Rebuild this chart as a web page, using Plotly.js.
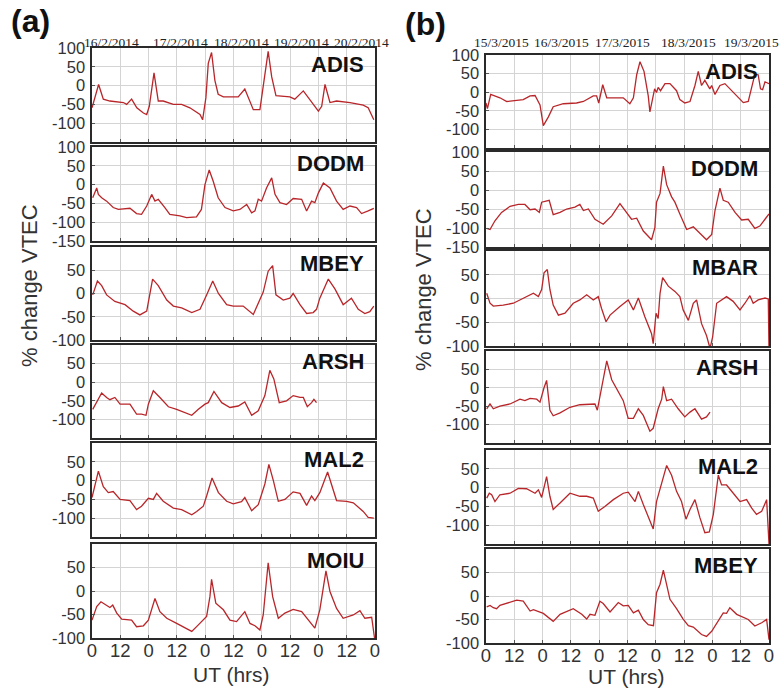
<!DOCTYPE html>
<html><head><meta charset="utf-8">
<script src="https://cdn.plot.ly/plotly-3.0.1.min.js"></script>
<style>html,body{margin:0;padding:0;background:#fff}#chart{width:781px;height:689px}</style>
</head><body><div id="chart"></div>
<script>
// ---------- DATA ----------
const xTickVals = [0,12,24,36,48,60,72,84,96,108,120];
const xTickText = ['0','12','0','12','0','12','0','12','0','12','0'];
const stationsA = ['ADIS','DODM','MBEY','ARSH','MAL2','MOIU'];
const stationsB = ['ADIS','DODM','MBAR','ARSH','MAL2','MBEY'];
const datesA = ['16/2/2014','17/2/2014','18/2/2014','19/2/2014','20/2/2014'];
const datesB = ['15/3/2015','16/3/2015','17/3/2015','18/3/2015','19/3/2015'];

const a_ADIS_t = [0,1.3,2.8,4.8,7.6,13.3,14.7,16.8,19,21.8,23.2,24.3,26.3,28.1,30.2,34.5,38,41.5,45.8,46.9,48.3,49.3,50.7,52.1,53.5,55.7,62,64.8,68.4,71.2,73.3,74.7,76.2,78,83.9,86,89.6,93.1,96,97.4,98.8,100.9,103.7,109.4,115,117.1,119.5];
const a_ADIS_v = [-59,-32,3,-36,-41,-45,-50,-36,-59,-73,-77,-55,34,-41,-41,-50,-50,-59,-77,-91,-32,59,88,14,-23,-30,-30,-9,-64,-64,32,91,23,-27,-30,-36,-14,-45,-68,-55,3,-45,-41,-45,-52,-59,-91];

const a_DODM_t = [0.3,1.3,2,2.7,4.1,6.2,9,11.2,16.1,18.9,21,23.2,25.3,26.7,28.1,30.9,33,37.3,40.1,44.3,46.4,47.9,49.7,51.4,53.5,56.4,59.9,62.7,65.6,67.7,69.1,70.5,71.9,74,76.2,77.6,79.7,82.5,85.3,88.9,91,93.1,94.5,96,98.1,100.9,103.7,106.5,109.4,112.2,114.3,117.1,119.5];
const a_DODM_v = [-35,-18,-9,-26,-35,-44,-61,-66,-63,-77,-79,-57,-26,-44,-39,-61,-79,-83,-88,-86,-66,0,39,9,-35,-61,-70,-66,-53,-75,-70,-39,-44,-9,18,-26,-48,-53,-37,-39,-70,-44,-48,-22,4,-9,-44,-66,-57,-61,-77,-70,-63];

const a_MBEY_t = [0.3,2.3,4.1,6.2,9.7,14,17.5,20.3,23.2,25.7,28.1,31.7,34.5,38,42.3,45.8,48.6,51.2,53.6,57.1,59.9,64.1,68.4,72.6,74.7,76.6,78,81.1,83.9,85.3,88.2,91,93.8,95.2,96.6,100.2,103,106.5,110,112.9,115.7,117.8,119.5];
const a_MBEY_v = [-3,27,17,-3,-17,-24,-38,-46,-38,31,17,-14,-27,-31,-41,-34,-3,27,0,-24,-27,-27,-45,3,48,60,-3,-14,-10,0,-24,-43,-41,-34,-10,31,10,-24,-10,-34,-43,-39,-27];

const a_ARSH_t = [0.3,2.3,4.1,6.2,7.6,9.7,11.9,16.1,18.9,21,22.9,23.9,26,28.8,32.4,35.9,39.4,42.3,45.1,47.9,49.3,51.7,55,58.5,62,64.8,67.7,70.5,73.3,75.4,77.1,79.4,82.5,85.3,88.2,89.6,91.3,93.1,94.1,95.2];
const a_ARSH_v = [-73,-50,-29,-41,-47,-41,-59,-59,-86,-86,-89,-59,-23,-41,-66,-73,-82,-89,-73,-59,-55,-25,-55,-68,-64,-53,-89,-77,-36,32,9,-55,-50,-36,-41,-41,-66,-55,-46,-55];

const a_MAL2_t = [0,1.3,2.7,4.8,6.9,9,11.9,16.1,18.9,21,23.9,26,27.4,30.2,34.5,38,42.3,44.4,47.2,48.6,50.9,53.6,57.1,59.9,63.4,64.8,67.7,70.5,73.3,75,76.9,79,81.8,85.3,88.2,91,93.1,94.5,96.6,99.9,103.7,108,110.8,115,117.1,119.5];
const a_MAL2_v = [-45,-9,25,-16,-32,-29,-50,-53,-77,-68,-47,-50,-34,-55,-73,-77,-91,-82,-68,-41,7,-32,-55,-62,-56,-45,-80,-64,-9,43,0,-55,-50,-30,-34,-66,-41,-53,-32,23,-53,-55,-59,-82,-98,-100];

const a_MOIU_t = [0,2,3.8,6.2,7.6,8.8,10.5,12.6,16.8,18.9,21.8,23.9,26.7,28.8,31.7,35.9,39.4,42.3,45.1,48.6,50,50.7,52.5,55.7,58.5,61.3,64.8,67,69.1,71.2,72.6,74.7,76.6,79,81.8,85.3,88.9,91.7,94.5,96.6,99.2,100.9,103.7,106.5,110.8,113.6,115.7,118.6,119.8];
const a_MOIU_v = [-62,-33,-23,-30,-35,-30,-47,-60,-62,-76,-74,-62,-16,-44,-58,-69,-79,-86,-72,-54,-12,25,-26,-40,-62,-65,-44,-69,-74,-83,-51,60,-12,-58,-47,-39,-44,-62,-79,-40,43,-1,-37,-58,-51,-42,-58,-56,-100];

const b_ADIS_t = [0,0.6,2,5.9,8.8,13,15.8,18.7,20.8,22.9,24.3,26.4,28.5,32.8,38.4,41.3,45.5,46.9,47.8,49.5,51.2,58.2,61,62.5,63.9,65.3,67,68.8,69.5,71.5,72.3,73,74,75.9,78,80.8,82.2,84.3,86.5,88.6,90,91.4,92.8,94.9,95.7,97.1,99.2,101.3,103.5,106.3,109.1,111.2,112.6,114,115.4,116.4,117.3,118.3,120];
const b_ADIS_v = [-29,-44,-6,-15,-25,-22,-20,-10,-9,-34,-90,-67,-39,-31,-29,-25,-10,-10,-29,20,-15,-15,-31,-15,47,82,56,-10,-53,9,-1,13,4,23,23,4,-20,-29,-25,18,56,18,32,9,18,-6,18,23,9,-10,-28,-25,13,48,47,9,7,28,23];

const b_DODM_t = [0.3,1.7,3.8,6.6,10.2,13.7,16.5,18.7,20.8,22.6,23.6,25,26.8,28.5,31.4,34.2,37.7,39.8,41.3,43.4,46.2,49.7,53.3,56.8,59.6,61.7,63.9,66.7,70.2,71.6,72.3,73.8,75.2,76.6,78.7,80.1,82.2,85.1,87.9,90.7,93.5,95.7,97.1,99.2,100.6,102.7,105.6,108.4,111.2,114,116.1,118.3,120];
const b_DODM_v = [-101,-104,-81,-59,-43,-38,-38,-52,-50,-59,-32,-29,-27,-65,-59,-50,-45,-38,-54,-50,-77,-90,-68,-36,-59,-77,-74,-108,-131,-99,-32,-9,63,14,-18,-32,-63,-104,-97,-113,-131,-117,-54,5,-27,-32,-59,-79,-77,-101,-95,-77,-63];

const b_MBAR_t = [0.3,1.7,3.1,7.3,11.6,15.8,20.1,22.2,23.6,24.6,26,27.1,28.5,30.7,33.5,37,39.8,42.7,45.5,47.6,49,50.9,52.6,56.8,60.3,62.5,64.6,67.4,70.2,70.9,72.1,73,73.8,74.9,77.3,80.1,82.2,83.6,85.8,87.9,89.3,91.4,93.5,95,96.1,97.8,99.9,102,104.8,107.7,109.8,111.9,113.3,115.4,118.3,119.7,120];
const b_MBAR_v = [11,-10,-16,-14,-10,1,11,4,19,54,61,19,-14,-35,-31,-10,-3,8,-3,4,-21,-49,-35,-17,-3,-24,1,-39,-74,-95,-31,-42,11,44,26,15,4,-24,-46,-10,-3,-53,-78,-105,-81,-10,-3,4,-6,-24,-10,6,-10,-3,1,-1,-110];

const b_ARSH_t = [0.3,1.7,3.1,5.9,10.2,14.4,16.5,18.7,21.5,22.9,24.6,25.7,27.1,28.5,31.4,35.6,39.8,44.1,46.2,47.2,48.3,49.7,51.2,53.3,55.4,58.2,60.3,62.5,64.6,66.7,69.5,70.9,73,74.5,75.2,76.6,78.7,81.5,84.3,86.5,88.6,90,91.4,93.5,95];
const b_ARSH_v = [-57,-44,-57,-50,-44,-31,-35,-29,-31,-39,0,20,-61,-76,-68,-53,-46,-46,-44,-61,-22,31,73,22,-4,-35,-83,-83,-57,-75,-118,-110,-57,-31,3,-35,-31,-57,-79,-66,-57,-70,-85,-79,-66];

const b_MAL2_t = [0.3,1.4,2.4,3.8,5.9,10.2,13.7,17.2,20.8,22.2,23.6,25.7,27.1,28.5,31.4,35.6,39.8,42.7,45.5,47.6,50.4,54,58.2,60.3,63.2,64.6,66.7,68.8,70.9,72.3,74.5,76.6,78.7,80.8,82.9,84.8,86.5,88.6,90.7,92.8,94.7,96.4,98.5,99.9,102,104.8,107.7,110.5,112.6,114.7,116.9,119,120];
const b_MAL2_v = [-28,-15,-19,-37,-19,-15,-2,-3,-15,-6,-26,29,-23,-58,-41,-15,-23,-23,-28,-63,-50,-32,-15,-12,-37,-10,-45,-76,-110,-37,16,59,33,-10,-37,-84,-58,-32,-80,-120,-118,-71,33,7,7,-15,-37,-32,-54,-71,-63,-32,-150];

const b_MBEY_t = [0.3,1.7,3.1,4.5,5.9,10.2,13,15.8,18.7,20.1,24.3,28.5,31.4,37,40.6,42.7,44.1,46.2,48.3,49.7,52.6,56.1,58.2,60.3,62.5,64.6,66.7,68.8,71,72.3,73.8,75.2,76.6,78,80.8,83.6,85.8,87.9,91.4,93.5,95.7,98.5,100.6,102,103.4,106.3,109.1,111.2,114,116.9,119,120];
const b_MBEY_v = [-23,-20,-25,-27,-20,-14,-9,-11,-32,-29,-37,-54,-39,-27,-39,-49,-39,-41,-11,-16,-34,-14,-21,-20,-36,-30,-50,-61,-63,7,25,55,21,-7,-27,-49,-63,-66,-82,-86,-75,-54,-36,-37,-25,-39,-46,-50,-64,-57,-50,-93];

const yRangesA = [[-150,100],[-150,100],[-100,100],[-150,100],[-150,100],[-100,100]];
const yRangesB = [[-150,100],[-150,100],[-100,100],[-150,100],[-150,100],[-100,100]];
const yTicksA = [[-100,-50,0,50,100],[-150,-100,-50,0,50,100],[-100,-50,0,50],[-100,-50,0,50],[-100,-50,0,50],[-100,-50,0,50]];
const yTicksB = [[-100,-50,0,50,100],[-150,-100,-50,0,50,100],[-100,-50,0,50],[-100,-50,0,50],[-100,-50,0,50],[-100,-50,0,50]];

// ---------- LAYOUT GEOMETRY (pixels) ----------
const W = 781, H = 689;
const boxA = {l:92, r:375, rows:[[48,142],[147,241],[247,340],[345,438],[443,537],[544,638]]};
const boxB = {l:486, r:769, rows:[[55,148],[152,247],[251,346],[351,443],[450,544],[549,643]]};

const seriesA = [[a_ADIS_t,a_ADIS_v],[a_DODM_t,a_DODM_v],[a_MBEY_t,a_MBEY_v],[a_ARSH_t,a_ARSH_v],[a_MAL2_t,a_MAL2_v],[a_MOIU_t,a_MOIU_v]];
const seriesB = [[b_ADIS_t,b_ADIS_v],[b_DODM_t,b_DODM_v],[b_MBAR_t,b_MBAR_v],[b_ARSH_t,b_ARSH_v],[b_MAL2_t,b_MAL2_v],[b_MBEY_t,b_MBEY_v]];

const LINE = '#b8262a';
const FONT = 'Arial, Liberation Sans, sans-serif';
const traces = [];
const layout = {
  width: W, height: H, margin: {l:0,r:0,t:0,b:0},
  paper_bgcolor: '#fff', plot_bgcolor: '#fff', showlegend: false,
  annotations: []
};
const tickCol = '#333';

function addPanel(box, series, ranges, ticks, names, offset) {
  for (let i = 0; i < 6; i++) {
    const n = offset + i + 1;
    const xs = n === 1 ? '' : String(n);
    const [top, bot] = box.rows[i];
    traces.push({
      x: series[i][0], y: series[i][1], type: 'scatter', mode: 'lines',
      xaxis: 'x' + xs, yaxis: 'y' + xs,
      line: {color: LINE, width: 1.3}, hoverinfo: 'skip'
    });
    layout['xaxis' + xs] = {
      domain: [box.l / W, box.r / W], range: [0, 120], anchor: 'y' + xs,
      tickmode: 'array', tickvals: xTickVals, ticktext: xTickText,
      showticklabels: i === 5, tickfont: {family: FONT, size: 18.5, color: tickCol},
      showgrid: true, gridcolor: '#d4d4d4', gridwidth: 1, zeroline: false,
      showline: true, mirror: true, linecolor: '#2a2a2a', linewidth: 1.6,
      ticks: 'inside', ticklen: 3, tickcolor: '#555', fixedrange: true,
      ticklabelstandoff: -5
    };
    layout['yaxis' + xs] = {
      domain: [1 - bot / H, 1 - top / H], range: ranges[i], anchor: 'x' + xs,
      tickmode: 'array', tickvals: ticks[i], ticktext: ticks[i].map(v => String(v)),
      tickfont: {family: FONT, size: 16.5, color: tickCol},
      showgrid: true, gridcolor: '#d4d4d4', gridwidth: 1, zeroline: false,
      showline: true, mirror: true, linecolor: '#2a2a2a', linewidth: 1.6,
      ticks: 'inside', ticklen: 3, tickcolor: '#555', fixedrange: true,
      ticklabelstandoff: 2
    };
    layout.annotations.push({
      xref: 'paper', yref: 'paper',
      x: (box.r - 9) / W, y: 1 - (top + 16) / H,
      xanchor: 'right', yanchor: 'middle', showarrow: false,
      text: '<b>' + names[i] + '</b>',
      font: {family: FONT, size: 22, color: '#111'}
    });
  }
}
addPanel(boxA, seriesA, yRangesA, yTicksA, stationsA, 0);
addPanel(boxB, seriesB, yRangesB, yTicksB, stationsB, 6);

// dates above top panels
const dateXA = [111, 180, 241, 301, 361];
const dateXB = [501, 561, 622, 688, 751];
const DATEFONT = {family:'Liberation Serif, Times New Roman, serif', size:13.5, color:'#222'};
datesA.forEach((d, k) => layout.annotations.push({xref:'paper', yref:'paper', x: dateXA[k]/W, y: 1-42/H,
  xanchor:'center', yanchor:'middle', showarrow:false, text:d, font: DATEFONT}));
datesB.forEach((d, k) => layout.annotations.push({xref:'paper', yref:'paper', x: dateXB[k]/W, y: 1-43/H,
  xanchor:'center', yanchor:'middle', showarrow:false, text:d, font: DATEFONT}));

// panel labels
layout.annotations.push({xref:'paper', yref:'paper', x:31/W, y:1-21/H, xanchor:'center', yanchor:'middle',
  showarrow:false, text:'<b>(a)</b>', font:{family:FONT, size:32, color:'#111'}});
layout.annotations.push({xref:'paper', yref:'paper', x:426/W, y:1-24/H, xanchor:'center', yanchor:'middle',
  showarrow:false, text:'<b>(b)</b>', font:{family:FONT, size:32, color:'#111'}});

// axis titles
layout.annotations.push({xref:'paper', yref:'paper', x:29/W, y:1-286/H, xanchor:'center', yanchor:'middle',
  showarrow:false, textangle:-90, text:'% change VTEC', font:{family:FONT, size:22, color:'#333'}});
layout.annotations.push({xref:'paper', yref:'paper', x:423/W, y:1-290/H, xanchor:'center', yanchor:'middle',
  showarrow:false, textangle:-90, text:'% change VTEC', font:{family:FONT, size:22, color:'#333'}});
layout.annotations.push({xref:'paper', yref:'paper', x:231/W, y:1-674/H, xanchor:'center', yanchor:'middle',
  showarrow:false, text:'UT (hrs)', font:{family:FONT, size:21, color:'#333'}});
layout.annotations.push({xref:'paper', yref:'paper', x:626/W, y:1-676/H, xanchor:'center', yanchor:'middle',
  showarrow:false, text:'UT (hrs)', font:{family:FONT, size:21, color:'#333'}});

Plotly.newPlot('chart', traces, layout, {displayModeBar:false, staticPlot:true});
</script></body></html>
